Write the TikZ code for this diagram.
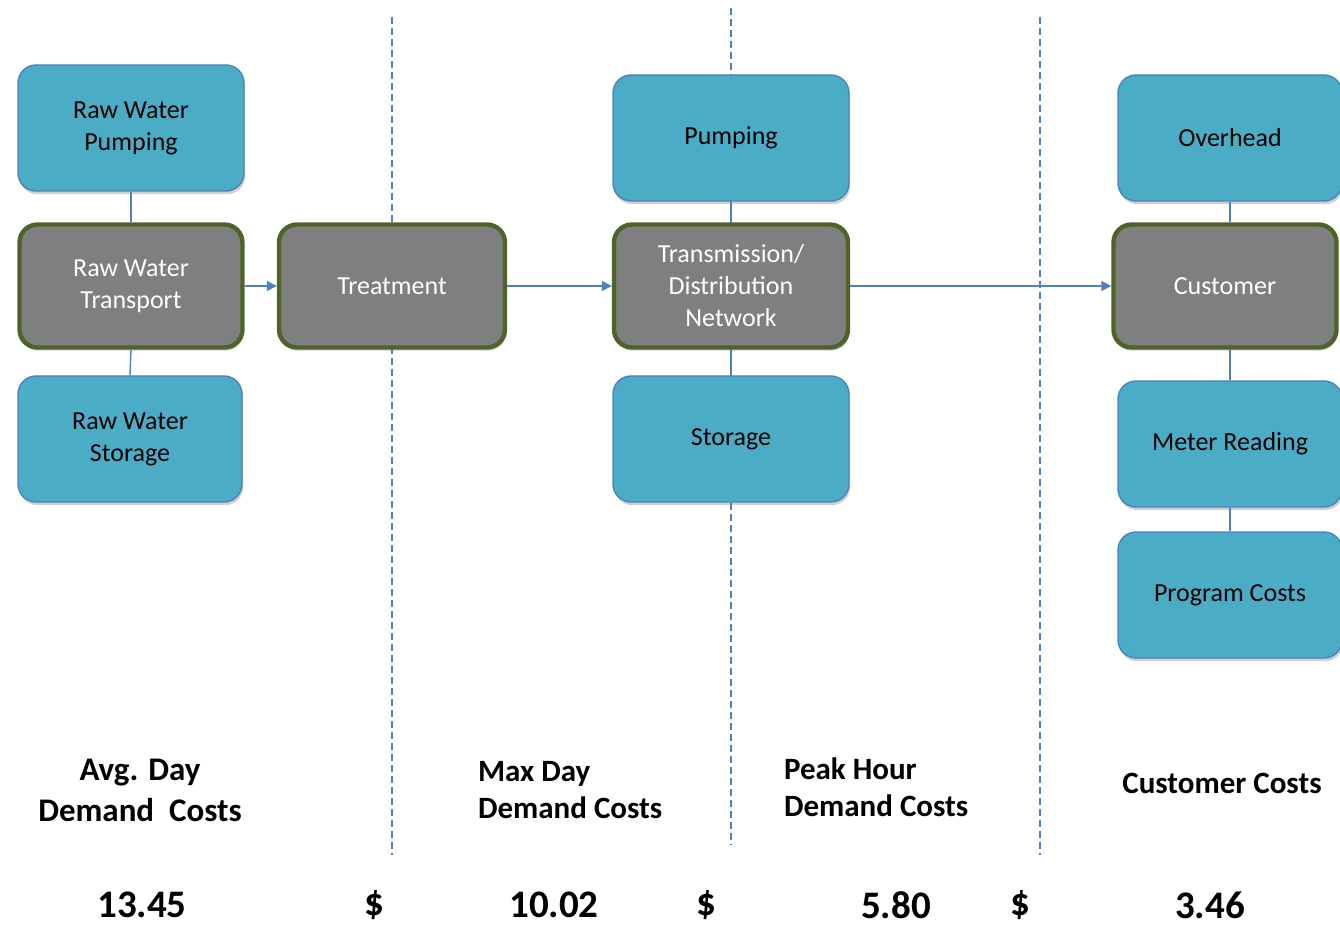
\documentclass[tikz,border=0pt]{standalone}
\usepackage{fontspec}
\setmainfont{Carlito}
\usetikzlibrary{arrows.meta,shadows}
\definecolor{boxcyan}{HTML}{4BACC6}
\definecolor{edgeblue}{HTML}{4F81BD}
\definecolor{oliveedge}{HTML}{4F6228}
\definecolor{stagegray}{HTML}{7F7F7F}

\begin{document}
\begin{tikzpicture}[x=0.5pt,y=-0.5pt,
    boxtext/.style={font=\fontsize{13}{16}\selectfont, align=center},
    costbox/.style={boxtext, draw=edgeblue, line width=0.7pt, fill=boxcyan,
      rounded corners=9pt, minimum height=63pt,
      drop shadow={shadow xshift=0.6pt, shadow yshift=-1.6pt, opacity=0.3, fill=black!60}},
    stagebox/.style={boxtext, text=white, draw=oliveedge, line width=2.2pt, fill=stagegray,
      rounded corners=9pt, minimum width=111.5pt, minimum height=61.5pt,
      drop shadow={shadow xshift=0.6pt, shadow yshift=-1.6pt, opacity=0.3, fill=black!60}},
    link/.style={draw=edgeblue, line width=0.7pt},
    flow/.style={link, -{Triangle[length=5pt,width=5pt]}},
    split/.style={draw=edgeblue, line width=0.75pt, dash pattern=on 3.5pt off 2pt},
    heading/.style={font=\fontsize{15.5}{18.5}\selectfont\bfseries},
    amount/.style={font=\fontsize{19.5}{22}\selectfont\bfseries, inner sep=0pt}]

  \useasboundingbox (0,0) rectangle (1340,925);

  % dividers between the cost groups
  \draw[split] (392,17) -- (392,855);
  \draw[split] (731,8) -- (731,845);
  \draw[split] (1040,17) -- (1040,855);

  % raw water
  \node[costbox, minimum width=113pt] (rwpump) at (131,128) {Raw Water\\Pumping};
  \node[stagebox] (rwtrans) at (131,286) {Raw Water\\Transport};
  \node[costbox, minimum width=112pt] (rwstore) at (130,439) {Raw Water\\Storage};

  \node[stagebox, minimum width=113pt] (treat) at (392,286) {Treatment};

  % network
  \node[costbox, minimum width=118pt] (pump) at (731,138) {Pumping};
  \node[stagebox, minimum width=117pt] (tdnet) at (731,286) {Transmission/\\Distribution\\Network};
  \node[costbox, minimum width=118pt] (store) at (731,439) {Storage};

  % customer
  \node[costbox, minimum width=112pt] (ovhd) at (1230,138) {Overhead};
  \node[stagebox] (cust) at (1225,286) {Customer};
  \node[costbox, minimum width=112pt] (meter) at (1230,444) {Meter Reading};
  \node[costbox, minimum width=112pt] (prog) at (1230,595) {Program Costs};

  \draw[link] (rwpump.south) -- (rwtrans.north);
  \draw[link] (rwtrans.south) -- (rwstore.north);
  \draw[link] (pump.south) -- (tdnet.north);
  \draw[link] (tdnet.south) -- (store.north);
  \draw[link] (ovhd.south) -- (ovhd.south |- cust.north);
  \draw[link] (meter.north |- cust.south) -- (meter.north);
  \draw[link] (meter.south) -- (prog.north);

  \draw[flow] (rwtrans.east) -- (treat.west);
  \draw[flow] (treat.east) -- (tdnet.west);
  \draw[flow] (tdnet.east) -- (cust.west);

  % group headings
  \node[heading, font=\fontsize{16.5}{20.5}\selectfont\bfseries, align=center] (avghead) at (140,790) {Avg. Day\\Demand\ \ Costs};
  \node[heading, align=left, anchor=west] (maxhead) at (471,790) {Max Day\\Demand Costs};
  \node[heading, align=left, anchor=west] (peakhead) at (777,787) {Peak Hour\\Demand Costs};
  \node[heading] (custhead) at (1222,783) {Customer Costs};

  % unit costs
  \node[amount] (avgcost) at (142,905) {13.45};
  \node[amount] (dolmax) at (374,905) {\$};
  \node[amount] (maxcost) at (554,905) {10.02};
  \node[amount] (dolpeak) at (706,905) {\$};
  \node[amount] (peakcost) at (896,905) {5.80};
  \node[amount] (dolcust) at (1020,905) {\$};
  \node[amount] (custcost) at (1210,905) {3.46};
\end{tikzpicture}
\end{document}
